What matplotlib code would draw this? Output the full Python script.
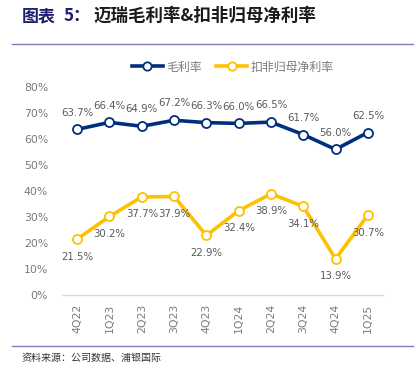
import matplotlib
matplotlib.use("Agg")
import matplotlib.pyplot as plt
from matplotlib.lines import Line2D

plt.rcParams['font.family'] = ['Noto Sans CJK SC', 'DejaVu Sans']

quarters = ["4Q22", "1Q23", "2Q23", "3Q23", "4Q23", "1Q24", "2Q24", "3Q24", "4Q24", "1Q25"]
gross_margin = [63.7, 66.4, 64.9, 67.2, 66.3, 66.0, 66.5, 61.7, 56.0, 62.5]
net_margin = [21.5, 30.2, 37.7, 37.9, 22.9, 32.4, 38.9, 34.1, 13.9, 30.7]
yticks = [0, 10, 20, 30, 40, 50, 60, 70, 80]
series_names = ["毛利率", "扣非归母净利率"]

navy = "#002F7F"
gold = "#FFC000"
gray = "#595959"
tickgray = "#7A7A7A"

fig = plt.figure(figsize=(4.16, 3.77), dpi=100)
W, H = 416, 377

ax = fig.add_axes([62 / W, 1 - 295 / H, (383 - 62) / W, (295 - 87) / H])
x = list(range(len(quarters)))
ax.plot(x, gross_margin, color=navy, lw=2.6, marker='o', ms=6.5,
        mfc='white', mec=navy, mew=1.3, zorder=3)
ax.plot(x, net_margin, color=gold, lw=2.6, marker='o', ms=6.5,
        mfc='white', mec=gold, mew=1.3, zorder=3)

for xi, v in zip(x, gross_margin):
    ax.annotate(f"{v:.1f}%", (xi, v), xytext=(0, 8.5), textcoords='offset points',
                ha='center', va='bottom', fontsize=7.3, color=gray, family='DejaVu Sans')
for xi, v in zip(x, net_margin):
    ax.annotate(f"{v:.1f}%", (xi, v), xytext=(0, -9), textcoords='offset points',
                ha='center', va='top', fontsize=7.3, color=gray, family='DejaVu Sans')

ax.set_xlim(-0.47, 9.47)
ax.set_ylim(0, 80)
ax.set_yticks(yticks)
ax.set_yticklabels([f"{t}%" for t in yticks], fontsize=7.8, color=tickgray, family='DejaVu Sans')
ax.set_xticks(x)
ax.set_xticklabels(quarters, rotation=90, fontsize=7.8, color=tickgray, family='DejaVu Sans')
ax.tick_params(axis='y', length=0, pad=10)
ax.tick_params(axis='x', length=0, pad=6)
for s in ['top', 'right', 'left']:
    ax.spines[s].set_visible(False)
ax.spines['bottom'].set_color('#D9D9D9')
ax.spines['bottom'].set_linewidth(1)

# Title
fig.text(22 / W, 1 - 16 / H, "图表", fontsize=12.2, fontweight='bold', color='#1F1F6F',
         va='center', ha='left')
fig.text(64 / W, 1 - 16 / H, "5：", fontsize=12.2, fontweight='bold', color='#1F1F6F',
         va='center', ha='left')
fig.text(93 / W, 1 - 16 / H, "迈瑞毛利率&扣非归母净利率", fontsize=12.6, fontweight='bold',
         color='#1a1a1a', va='center', ha='left')

# Separator lines
fig.add_artist(Line2D([12 / W, 413 / W], [1 - 44 / H, 1 - 44 / H], color='#7F7FBF', lw=1))
fig.add_artist(Line2D([12 / W, 413 / W], [1 - 346 / H, 1 - 346 / H], color='#7F7FBF', lw=1))

# Legend
handles = [Line2D([], [], color=navy, lw=2.6, marker='o', ms=6, mfc='white', mec=navy, mew=1.3),
           Line2D([], [], color=gold, lw=2.6, marker='o', ms=6, mfc='white', mec=gold, mew=1.3)]
fig.legend(handles, series_names, loc='center', bbox_to_anchor=(233 / W, 1 - 67 / H), ncol=2,
           frameon=False, fontsize=8.6, labelcolor=tickgray, handlelength=2.6,
           columnspacing=1.2, handletextpad=0.3)

fig.text(22 / W, 1 - 358 / H, "资料来源：公司数据、浦银国际", fontsize=7.2, color='#333333',
         va='center', ha='left')

fig.savefig("out.png", dpi=100)
